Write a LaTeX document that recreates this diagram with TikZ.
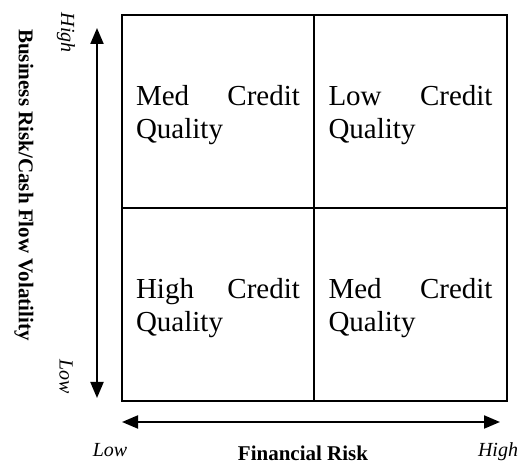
\documentclass[tikz,border=0pt]{standalone}
\usepackage{fontspec}
\setmainfont{Liberation Serif}
\usetikzlibrary{arrows.meta}

\tikzset{
  cell/.style={draw, line width=1.8pt, minimum width=192.5pt, minimum height=193pt, inner sep=0pt},
  celltext/.style={text width=164pt, align=left, inner sep=0pt, yshift=-4pt,
    font=\fontsize{29}{33}\selectfont},
  axisarrow/.style={line width=2pt, {Triangle[length=16pt,width=13pt]}-{Triangle[length=16pt,width=13pt]}},
  endlabel/.style={font=\fontsize{20}{24}\selectfont\itshape, inner sep=0pt},
  axislabel/.style={font=\fontsize{21}{25}\selectfont\bfseries, inner sep=0pt}
}

\begin{document}
\begin{tikzpicture}[x=1pt, y=1pt]
\useasboundingbox (0,0) rectangle (519,465);

\node[cell] (medtop) at (218,353.5) {};
\node[cell] (lowtop) at (410.5,353.5) {};
\node[cell] (highbot) at (218,160.5) {};
\node[cell] (medbot) at (410.5,160.5) {};
\node[celltext] (medtoptext) at (medtop.center) {Med \hfill Credit\\Quality};
\node[celltext] (lowtoptext) at (lowtop.center) {Low \hfill Credit\\Quality};
\node[celltext] (highbottext) at (highbot.center) {High \hfill Credit\\Quality};
\node[celltext] (medbottext) at (medbot.center) {Med \hfill Credit\\Quality};

\coordinate (vtop) at (97,437);
\coordinate (vbot) at (97,67);
\coordinate (hleft) at (122,43);
\coordinate (hright) at (500,43);
\draw[axisarrow] (vtop) -- (vbot);
\draw[axisarrow] (hleft) -- (hright);

\node[endlabel, rotate=-90] (vhigh) at (66,432) {High};
\node[endlabel, rotate=-90] (vlow) at (66,88) {Low};
\node[axislabel, rotate=-90] (vname) at (24,280) {Business Risk/Cash Flow Volatility};

\node[endlabel, anchor=base] (hlow) at (110,8) {Low};
\node[endlabel, anchor=base] (hhigh) at (498,8) {High};
\node[axislabel, anchor=base] (hname) at (303,4) {Financial Risk};
\end{tikzpicture}
\end{document}
